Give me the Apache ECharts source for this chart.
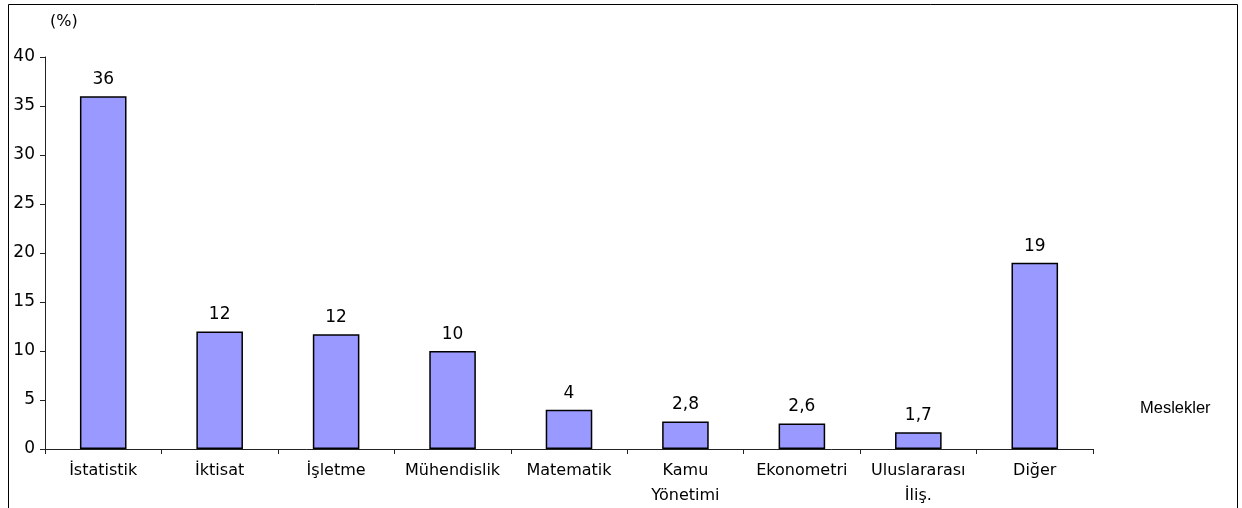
<!DOCTYPE html>
<html>
<head>
<meta charset="utf-8">
<script src="https://cdn.jsdelivr.net/npm/echarts@6/dist/echarts.min.js"></script>
<style>
  html, body { margin: 0; padding: 0; background: #fff; }
  #chart { width: 1242px; height: 508px; }
</style>
</head>
<body>
<div id="chart"></div>
<script>
const categories = ['İstatistik', 'İktisat', 'İşletme', 'Mühendislik', 'Matematik', 'Kamu\nYönetimi', 'Ekonometri', 'Uluslararası\nİliş.', 'Diğer'];
const values = [36, 12, 11.7, 10, 4, 2.8, 2.6, 1.7, 19];
const valueLabels = ['36', '12', '12', '10', '4', '2,8', '2,6', '1,7', '19'];
const yTicks = [0, 5, 10, 15, 20, 25, 30, 35, 40];

const font = 'DejaVu Sans';
const chart = echarts.init(document.getElementById('chart'));

chart.setOption({
  animation: false,
  backgroundColor: '#fff',
  textStyle: { fontFamily: font },
  graphic: [
    {
      type: 'rect',
      shape: { x: 8.5, y: 4.5, width: 1229, height: 520 },
      style: { fill: 'none', stroke: '#000', lineWidth: 1 },
      silent: true
    },
    {
      type: 'text',
      left: 50, top: 14,
      style: { text: '(%)', fontSize: 16, fontFamily: font, fill: '#000' }
    },
    {
      type: 'text',
      left: 1140, top: 400,
      style: { text: 'Meslekler', fontSize: 16.5, fontFamily: 'Liberation Sans', fill: '#000' }
    }
  ],
  grid: { left: 45, right: 149, top: 57, bottom: 59 },
  xAxis: {
    type: 'category',
    data: categories,
    axisLine: { lineStyle: { color: '#222', width: 1 } },
    axisTick: { show: true, alignWithLabel: false, length: 5, lineStyle: { color: '#222' } },
    axisLabel: { color: '#000', fontSize: 16, margin: 9, lineHeight: 25, interval: 0, fontFamily: font }
  },
  yAxis: {
    type: 'value',
    min: yTicks[0],
    max: yTicks[yTicks.length - 1],
    interval: 5,
    splitLine: { show: false },
    axisLine: { show: true, lineStyle: { color: '#222', width: 1 } },
    axisTick: { show: true, length: 5, lineStyle: { color: '#222' } },
    axisLabel: { color: '#000', fontSize: 17, margin: 10, fontFamily: font }
  },
  series: [{
    type: 'bar',
    data: values,
    barWidth: '40%',
    itemStyle: { color: '#9999ff', borderColor: '#000', borderWidth: 1.5 },
    label: {
      show: true,
      position: 'top',
      distance: 8,
      color: '#000',
      fontSize: 17,
      fontFamily: font,
      formatter: p => valueLabels[p.dataIndex]
    }
  }]
});
</script>
</body>
</html>
